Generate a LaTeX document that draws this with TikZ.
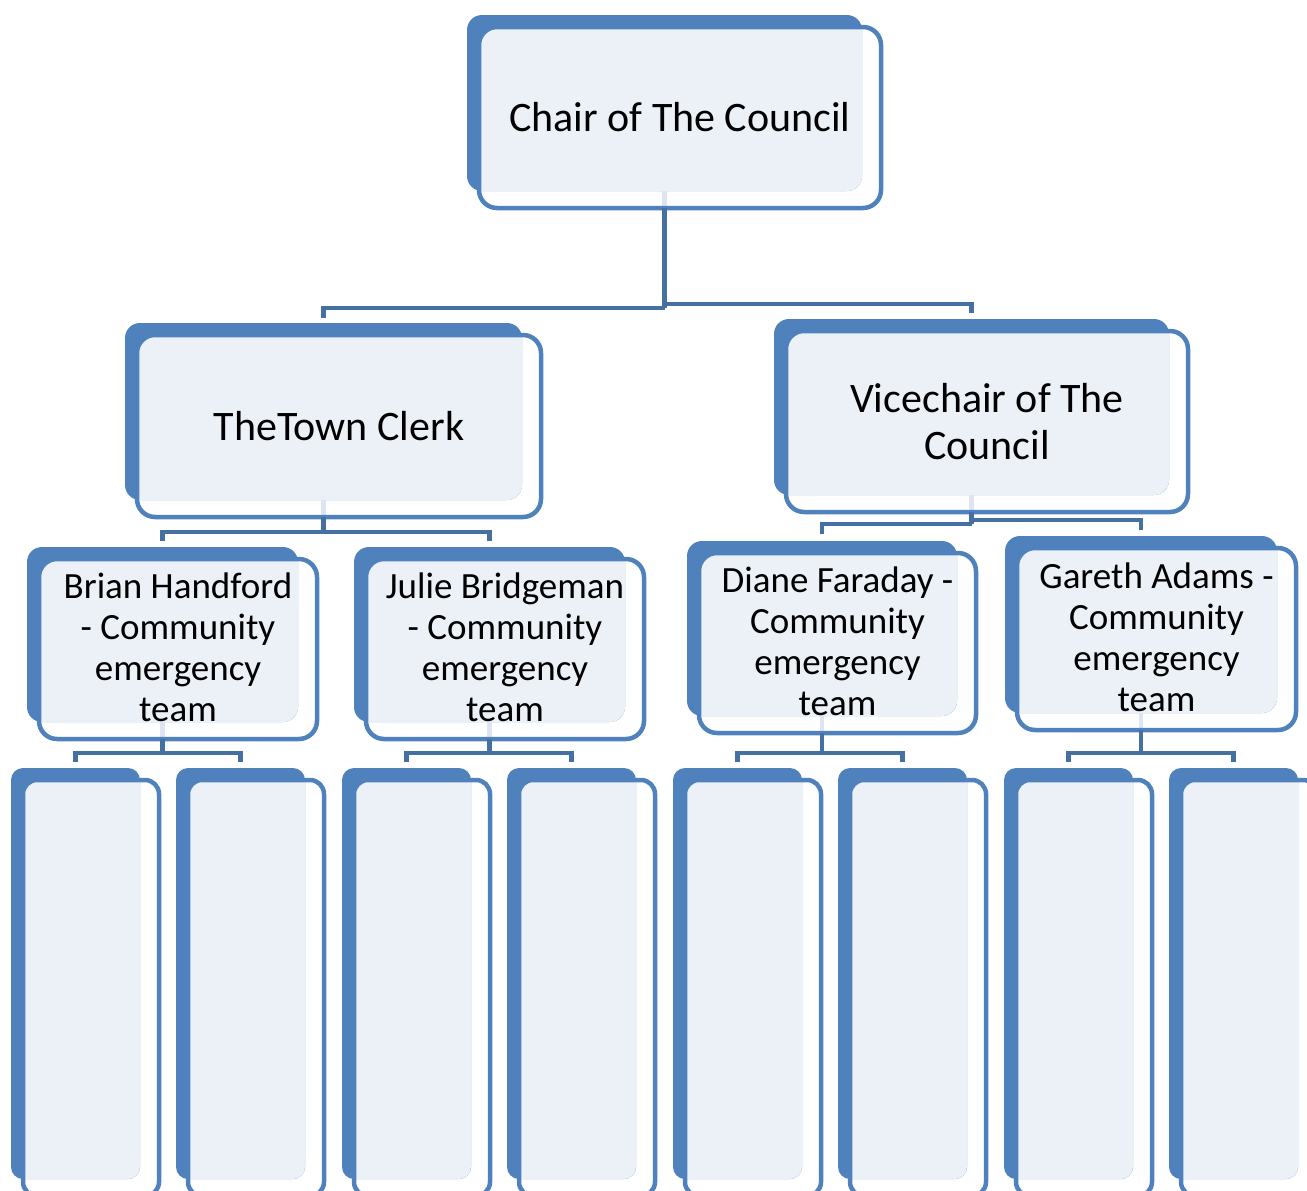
\documentclass[tikz,border=0pt]{standalone}
\usepackage{fontspec}
\setmainfont{Carlito}
\definecolor{backblue}{HTML}{4F81BD}
\definecolor{lightfill}{HTML}{ECF1F8}
\definecolor{connblue}{HTML}{4470A2}
\definecolor{stubcol}{HTML}{DCE5F1}
\tikzset{
  backfill/.style={fill=backblue},
  lightpart/.style={fill=lightfill},
  frontline/.style={draw=backblue, line width=4.5pt},
  conn/.style={draw=connblue, line width=4.5pt},
  stub/.style={draw=stubcol, line width=4.5pt},
  bigtext/.style={font=\fontsize{42}{46.5}\selectfont, align=center, inner sep=0pt},
  midtext/.style={font=\fontsize{37}{41}\selectfont, align=center, inner sep=0pt},
  notext/.style={inner sep=0pt},
}
\def\rb{15pt}\def\rf{18pt}
% #1 name, #2 x1, #3 y1, #4 x2, #5 y2 (back rectangle), #6 text style, #7 text
\newcommand\orgbox[7]{%
  \fill[backfill, rounded corners=\rb] (#2,#3) rectangle (#4,#5);
  \begin{scope}
    \clip[rounded corners=\rb] (#2,#3) rectangle (#4,#5);
    \fill[lightpart, rounded corners=\rf] (#2+12,#3+12) rectangle (#4+19,#5+17);
  \end{scope}
  \path[stub] ({(#2+#4)/2},#5) -- ({(#2+#4)/2},#5+17);
  \draw[frontline, rounded corners=\rf] (#2+12,#3+12) rectangle (#4+19,#5+17);
  \coordinate (#1-top) at ({(#2+#4)/2},#3);
  \coordinate (#1-bot) at ({(#2+#4)/2},#5+17);
  \node[#6] (#1) at ({(#2+#4+31)/2},{(#3+#5+29)/2}) {#7};
}
\begin{document}
\begin{tikzpicture}[x=1pt,y=-1pt]
\useasboundingbox (0,0) rectangle (1307,1191);
\clip (0,0) rectangle (1307,1191);

% level 1 and 2
\orgbox{chair}{467}{15}{862}{191}{bigtext}{Chair of The Council}
\orgbox{clerk}{125}{323}{522}{500}{bigtext}{TheTown Clerk}
\orgbox{vice}{774}{319}{1169}{495}{bigtext}{Vicechair of The\\Council}

% level 3
\orgbox{brian}{27}{547}{298}{722}{midtext,yshift=2pt}{Brian Handford\\- Community\\emergency\\team}
\orgbox{julie}{354}{547}{625}{722}{midtext,yshift=2pt}{Julie Bridgeman\\- Community\\emergency\\team}
\orgbox{diane}{687}{541}{957}{716}{midtext,yshift=2pt}{Diane Faraday -\\Community\\emergency\\team}
\orgbox{gareth}{1005}{536}{1277}{713}{midtext,yshift=2pt}{Gareth Adams -\\Community\\emergency\\team}

% level 4 (no stub: its bottom is cut off by the frame)
\def\rb{12pt}\def\rf{14pt}
\tikzset{stub/.style={}}
\orgbox{ma}{11}{768}{140}{1179}{notext}{}
\orgbox{mb}{176}{768}{305}{1179}{notext}{}
\orgbox{mc}{342}{768}{471}{1179}{notext}{}
\orgbox{md}{507}{768}{636}{1179}{notext}{}
\orgbox{me}{673}{768}{802}{1179}{notext}{}
\orgbox{mf}{838}{768}{967}{1179}{notext}{}
\orgbox{mg}{1004}{768}{1133}{1179}{notext}{}
\orgbox{mh}{1169}{768}{1298}{1179}{notext}{}

% connectors
\draw[conn] (chair-bot) -- (chair-bot |- 0,308);
\draw[conn, shorten <=5pt] (clerk-top) -- (clerk-top |- 0,308) -- (chair-bot |- 0,308);
\draw[conn, shorten >=6pt] (chair-bot |- 0,304) -- (vice-top |- 0,304) -- (vice-top);

\draw[conn] (clerk-bot) -- (clerk-bot |- 0,532);
\draw[conn, shorten <=6pt, shorten >=6pt] (brian-top) -- (brian-top |- 0,532) -- (julie-top |- 0,532) -- (julie-top);

\draw[conn] (vice-bot) -- (vice-bot |- 0,524);
\draw[conn, shorten <=7pt] (diane-top) -- (diane-top |- 0,524) -- (vice-bot |- 0,524);
\draw[conn, shorten >=6pt] (vice-bot |- 0,520) -- (gareth-top |- 0,520) -- (gareth-top);

\draw[conn] (brian-bot) -- (brian-bot |- 0,753);
\draw[conn, shorten <=6pt, shorten >=6pt] (ma-top) -- (ma-top |- 0,753) -- (mb-top |- 0,753) -- (mb-top);
\draw[conn] (julie-bot) -- (julie-bot |- 0,753);
\draw[conn, shorten <=6pt, shorten >=6pt] (mc-top) -- (mc-top |- 0,753) -- (md-top |- 0,753) -- (md-top);
\draw[conn] (diane-bot) -- (diane-bot |- 0,753);
\draw[conn, shorten <=6pt, shorten >=6pt] (me-top) -- (me-top |- 0,753) -- (mf-top |- 0,753) -- (mf-top);
\draw[conn] (gareth-bot) -- (gareth-bot |- 0,753);
\draw[conn, shorten <=6pt, shorten >=6pt] (mg-top) -- (mg-top |- 0,753) -- (mh-top |- 0,753) -- (mh-top);
\end{tikzpicture}
\end{document}
